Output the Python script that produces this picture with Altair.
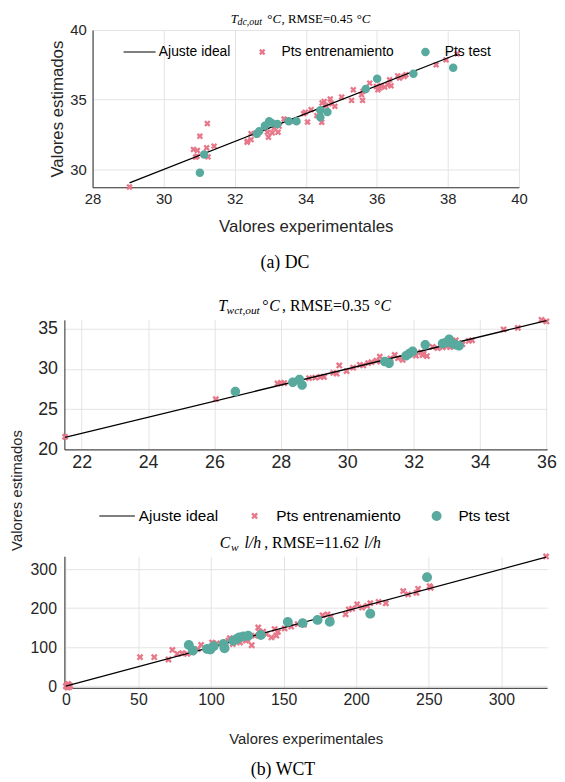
import math
import altair as alt
import pandas as pd

# ---------------- data ----------------
series = ["Ajuste ideal", "Pts entrenamiento", "Pts test"]

# (a) DC : T_dc,out
dc_train_x = [29.04, 30.84, 30.95, 30.90, 30.94, 31.02, 31.23, 31.21, 31.42, 31.25, 32.36, 32.46, 32.46, 32.35,
              32.60, 32.64, 32.83, 32.92, 32.95, 33.06, 33.11, 33.22, 33.25, 33.39, 33.57, 33.94, 34.05, 33.99,
              34.15, 34.31, 34.46, 34.45, 34.52, 34.57, 34.69, 34.73, 34.82, 35.01, 35.34, 35.29, 35.57, 35.60,
              35.61, 35.80, 35.99, 36.03, 36.08, 36.12, 36.22, 36.31, 36.40, 36.36, 36.59, 36.64, 36.77, 36.82,
              37.67, 37.95, 38.26]
dc_train_y = [28.74, 31.43, 31.36, 30.88, 30.95, 32.38, 33.29, 31.55, 31.67, 30.90, 32.02, 32.14, 32.57, 31.95,
              32.62, 32.50, 33.10, 32.67, 32.31, 32.62, 32.98, 32.67, 33.10, 33.62, 33.45, 34.00, 33.40, 34.10,
              34.29, 33.86, 34.76, 33.38, 34.88, 34.57, 35.05, 34.71, 34.52, 35.19, 35.71, 34.95, 35.36, 34.95,
              35.60, 36.19, 35.95, 35.71, 35.83, 36.00, 35.90, 36.07, 36.00, 36.43, 36.71, 36.55, 36.67, 36.79,
              37.50, 37.86, 38.29]
dc_test_x = [31.02, 31.14, 32.62, 32.69, 32.85, 32.97, 33.04, 33.20, 33.52, 33.74, 34.41, 34.41, 34.61, 35.69,
             36.01, 37.03, 38.15]
dc_test_y = [29.76, 31.07, 32.55, 32.74, 33.14, 33.45, 33.33, 33.26, 33.45, 33.45, 34.24, 33.74, 34.12, 35.76,
             36.50, 36.86, 37.29]

# (b) WCT : T_wct,out
wt_train_x = [21.50, 26.04, 27.90, 28.00, 28.10, 28.85, 29.04, 29.19, 29.30, 29.58, 29.68, 29.76, 29.98, 30.18,
              30.38, 30.48, 30.63, 30.73, 30.88, 30.98, 31.00, 31.30, 31.43, 31.53, 31.67, 32.07, 32.22, 32.27,
              32.30, 32.40, 32.57, 32.72, 32.87, 33.00, 33.10, 33.27, 33.35, 33.47, 33.66, 33.76, 34.71, 35.14,
              35.85, 36.00]
wt_train_y = [21.57, 26.24, 28.20, 28.28, 28.25, 28.85, 28.93, 29.00, 29.00, 29.50, 29.41, 30.43, 29.74, 30.15,
              30.51, 30.43, 30.72, 30.84, 31.04, 31.53, 30.90, 31.30, 31.73, 31.33, 31.12, 31.65, 32.06, 31.73,
              31.90, 31.60, 32.75, 32.59, 32.67, 32.80, 32.70, 33.56, 33.20, 33.07, 33.48, 33.56, 34.90, 35.10,
              36.10, 35.90]
wt_test_x = [26.63, 28.36, 28.56, 28.64, 31.13, 31.26, 31.77, 31.87, 31.97, 32.35, 32.87, 32.97, 33.07, 33.17,
             33.27, 33.37]
wt_test_y = [27.18, 28.35, 28.68, 27.99, 30.92, 30.72, 31.65, 31.93, 32.18, 32.99, 33.15, 33.28, 33.68, 33.15,
             32.99, 32.87]

# (b) WCT : C_w
cw_train_x = [0.0, 0.5, 1.2, 1.5, 2.0, 2.5, 3.0, 51.1, 60.9, 70.7, 73.4, 76.8, 80.2, 83.6, 87.1, 90.9, 93.2,
              100.7, 104.0, 110.0, 112.0, 113.0, 115.0, 120.0, 124.0, 125.0, 128.0, 130.2, 132.5, 133.0, 135.9,
              138.2, 141.6, 143.8, 145.0, 146.1, 150.7, 155.2, 159.7, 164.0, 176.8, 180.2, 182.5, 192.7, 194.9,
              197.2, 200.6, 204.0, 207.5, 209.7, 215.4, 220.4, 232.4, 235.8, 241.5, 242.6, 250.6, 251.3, 330.8]
cw_train_y = [0.0, 2.0, -3.5, 6.0, 4.0, -2.0, 1.0, 74.4, 74.4, 68.5, 93.0, 83.0, 84.5, 83.0, 87.0, 95.0, 106.0,
              112.0, 110.0, 112.0, 117.0, 123.0, 108.0, 112.0, 117.0, 120.0, 105.0, 129.4, 150.5, 140.0, 139.6,
              133.8, 125.1, 146.4, 130.0, 139.6, 148.0, 153.0, 159.1, 158.0, 181.8, 184.3, 178.4, 184.3, 196.9,
              198.6, 210.0, 201.7, 206.0, 212.6, 216.0, 212.6, 243.6, 235.2, 239.4, 249.5, 256.2, 252.0, 332.5]
cw_test_x = [84.7, 87.5, 97.3, 99.5, 101.8, 108.6, 109.3, 115.4, 117.7, 119.3, 122.2, 125.6, 134.3, 152.9, 163.1,
             173.4, 181.8, 209.7, 248.8]
cw_test_y = [105.8, 91.4, 95.7, 93.9, 102.3, 108.4, 97.2, 116.8, 121.0, 125.0, 127.7, 129.4, 131.2, 165.0, 161.7,
             170.0, 165.0, 186.0, 279.0]

dc_ticks_x = [28, 30, 32, 34, 36, 38, 40]
dc_ticks_y = [30, 35, 40]
wt_ticks_x = [22, 24, 26, 28, 30, 32, 34, 36]
wt_ticks_y = [20, 25, 30, 35]
cw_ticks_x = [0, 50, 100, 150, 200, 250, 300]
cw_ticks_y = [0, 100, 200, 300]

# ---------------- style ----------------
PINK = "#E7788A"
TEAL = "#58A99E"
AX = "#262626"
GRID = "#E4E4E4"
SANS = "Liberation Sans"
SERIF = "Liberation Serif"


def x_shape(a, w):
    d = w * math.sqrt(2)
    pts = [(-a, -a + d), (-a + d, -a), (0, -d), (a - d, -a), (a, -a + d), (d, 0),
           (a, a - d), (a - d, a), (0, d), (-a + d, a), (-a, a - d), (-d, 0)]
    return "M" + "L".join(f"{x:.4f},{y:.4f}" for x, y in pts) + "Z"


def circle_shape(r):
    return f"M{-r},0A{r},{r} 0 1,0 {r},0A{r},{r} 0 1,0 {-r},0Z"


def bar_shape(t):
    return f"M-1,{-t}L1,{-t}L1,{t}L-1,{t}Z"


def axis(values, fs, lpad, title=None, tfs=15, tpad=4, **kw):
    p = dict(values=values, grid=True, ticks=False, tickSize=0, labelFont=SANS, labelFontSize=fs,
             labelColor=AX, labelPadding=lpad, labelFlush=False, labelOverlap=False,
             domainColor=AX, domainWidth=1, gridColor=GRID, gridWidth=1)
    if title:
        p.update(title=title, titleFont=SANS, titleFontSize=tfs, titleFontWeight="normal",
                 titleColor=AX, titlePadding=tpad)
    else:
        p["title"] = None
    p.update(kw)
    return alt.Axis(**p)


def piece(t, x, y, size, italic=False):
    return alt.Chart(pd.DataFrame({"t": [t]})).mark_text(
        align="left", baseline="alphabetic", font=SERIF, fontSize=size,
        fontStyle="italic" if italic else "normal", color="#000000"
    ).encode(text="t:N", x=alt.value(x), y=alt.value(y))


def panel(tx, ty, sx, sy, xdom, ydom, xaxis, yaxis, w, h, size, shapes, legend, titles):
    train = pd.DataFrame({"x": tx, "y": ty, "tipo": series[1]})
    test = pd.DataFrame({"x": sx, "y": sy, "tipo": series[2]})
    lo, hi = min(tx + sx), max(tx + sx)
    line = pd.DataFrame({"x": [lo, hi], "y": [lo, hi]})
    xe = alt.X("x:Q", scale=alt.Scale(domain=xdom, nice=False, zero=False), axis=xaxis)
    ye = alt.Y("y:Q", scale=alt.Scale(domain=ydom, nice=False, zero=False), axis=yaxis)
    col = alt.Color("tipo:N", scale=alt.Scale(domain=series, range=["#000000", PINK, TEAL]), legend=legend)
    shp = alt.Shape("tipo:N", scale=alt.Scale(domain=series, range=shapes), legend=legend)
    pts_kw = dict(filled=True, opacity=1, size=size, strokeWidth=0)
    l_train = alt.Chart(train).mark_point(**pts_kw).encode(x=xe, y=ye, color=col, shape=shp)
    l_line = alt.Chart(line).mark_line(color="#000000", strokeWidth=1.3).encode(x=xe, y=ye)
    l_test = alt.Chart(test).mark_point(**pts_kw).encode(x=xe, y=ye, color=col, shape=shp)
    texts = [piece(*t) for t in titles]
    return alt.layer(l_train, l_line, l_test, *texts).properties(width=w, height=h)


def leg(x, y, size, fs, off, colpad):
    return alt.Legend(orient="none", legendX=x, legendY=y, direction="horizontal", title=None,
                      symbolSize=size, symbolStrokeWidth=0, labelFont=SANS, labelFontSize=fs,
                      labelColor="#000000", labelOffset=off, columnPadding=colpad, padding=0,
                      labelLimit=0)


# ---- panel (a) ----
S1 = 1050
p1 = panel(
    dc_train_x, dc_train_y, dc_test_x, dc_test_y, [28, 40], [28.72, 40],
    axis(dc_ticks_x, 15, 4, "Valores experimentales", 17, 13),
    axis(dc_ticks_y, 15, 6.5, "Valores estimados", 17, 3),
    431, 159, S1,
    [bar_shape(0.032), x_shape(0.2, 0.072), circle_shape(0.265)],
    leg(31, 5.5, S1, 14, 3, 15),
    [("T", 139.7, -7.3, 13, True), ("dc,out", 146.5, -4.6, 10, True), ("°", 176.5, -7.3, 13),
     ("C", 182, -7.3, 13, True), (", RMSE=0.45", 191, -7.3, 13), ("°", 267, -7.3, 13),
     ("C", 272, -7.3, 13, True)],
)

# ---- panel (b) top ----
S2 = 1296
p2 = panel(
    wt_train_x, wt_train_y, wt_test_x, wt_test_y, [21.48, 36.02], [20, 36.1],
    axis(wt_ticks_x, 18, 4),
    axis(wt_ticks_y, 18, 7, "Valores estimados", 15, 4, titleX=-40, titleY=172,
         titleAngle=270, titleAlign="center", titleBaseline="bottom"),
    488, 131, S2,
    [bar_shape(0.03), x_shape(0.19, 0.066), circle_shape(0.267)],
    None,
    [("T", 155.6, -8.7, 16, True), ("wct,out", 164, -5.7, 11.5, True), ("°", 200, -8.7, 16),
     ("C", 207, -8.7, 16, True), (", RMSE=0.35", 220, -8.7, 16), ("°", 313, -8.7, 16),
     ("C", 319.5, -8.7, 16, True)],
)

# ---- panel (b) bottom ----
p3 = panel(
    cw_train_x, cw_train_y, cw_test_x, cw_test_y, [-1, 331.5], [-4, 333],
    axis(cw_ticks_x, 16, 4, "Valores experimentales", 15, 24),
    axis(cw_ticks_y, 16, 8),
    488, 133, S2,
    [bar_shape(0.03), x_shape(0.19, 0.066), circle_shape(0.278)],
    leg(35.3, -59, S2, 15.5, 4, 18),
    [("C", 157, -8.3, 16, True), ("w", 168.5, -5.5, 11.5, True), ("l/h", 182, -8.3, 16, True),
     (", RMSE=11.62", 202, -8.3, 16), ("l/h", 303, -8.3, 16, True)],
)


def caption(t, x, y, h):
    return alt.Chart(pd.DataFrame({"t": [t]})).mark_text(
        align="center", baseline="alphabetic", font=SERIF, fontSize=18, color="#000000"
    ).encode(text="t:N", x=alt.value(x), y=alt.value(y)).properties(width=488, height=h)


capA = caption("(a)  DC", 223, 82, 134)
spacer = caption("", 10, 10, 108)
capB = caption("(b)  WCT", 221, 88, 80)

chart = alt.vconcat(
    p1, capA, p2, spacer, p3, capB, spacing=0, bounds="flush", center=True
).resolve_scale(
    color="independent", shape="independent", x="independent", y="independent"
).resolve_legend(
    color="independent", shape="independent"
).configure_view(stroke=None).properties(
    padding={"left": 2, "top": 0, "right": 0, "bottom": 0}
)

chart.save("out.html", embed_options={"renderer": "svg", "actions": False})
